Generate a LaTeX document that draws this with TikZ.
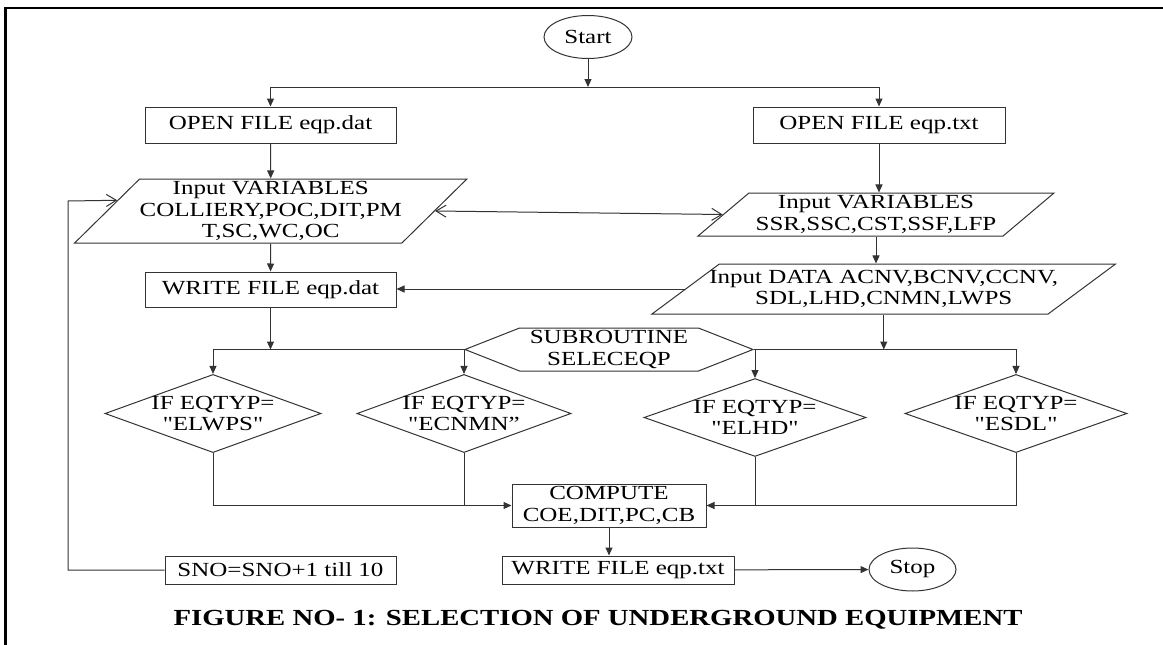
\documentclass[tikz,border=0pt]{standalone}
\usepackage{fontspec}
\newfontfamily\flowfont{Liberation Serif}[FakeStretch=1.25]
\usetikzlibrary{shapes.geometric,shapes.symbols,arrows.meta}

\tikzset{every picture/.style={line width=1pt}}
\tikzset{
    proc/.style={draw=black!80, rectangle, inner sep=0pt, align=center},
    inout/.style={draw=black!80, trapezium, trapezium stretches body, inner sep=0pt, align=center},
    decide/.style={draw=black!80, diamond, inner sep=-20pt, align=center},
    term/.style={draw=black!80, ellipse, inner sep=0pt},
    subr/.style={draw=black!80, signal, signal to=west and east, signal pointer angle=43, inner sep=0pt, align=center},
    arr/.style={draw=black!80, -{Triangle[length=8pt,width=7pt]}},
    barb/.style={draw=black!80, -{Straight Barb[length=10pt,width=12pt]}},
    barbs/.style={draw=black!80, {Straight Barb[length=10pt,width=12pt]}-{Straight Barb[length=10pt,width=12pt]}}
}

\begin{document}
\begin{tikzpicture}[x=1pt,y=1pt,yscale=-1,font=\flowfont\fontsize{20}{21.5}\selectfont]
        \useasboundingbox (0,0) rectangle (1163,645);
        \draw [line width=2.5pt] (5.5,645) -- (5.5,8) -- (1163,8);
        \node [term, minimum width=88pt, minimum height=43pt] (start) at (588,37) {Start};
        \coordinate (top) at (588,87);
        \node [proc, minimum width=251pt, minimum height=36pt] (open1) at (270.5,125) {OPEN FILE eqp.dat};
        \node [proc, minimum width=252pt, minimum height=36pt] (open2) at (879,125) {OPEN FILE eqp.txt};
        \node [inout, trapezium left angle=42.4, trapezium right angle=137.6, minimum width=367pt, minimum height=64pt] (in1) at (270.75,211) {Input VARIABLES\\COLLIERY,POC,DIT,PM\\T,SC,WC,OC};
        \node [inout, trapezium left angle=36.6, trapezium right angle=143.4, minimum width=356pt, minimum height=43pt] (in2) at (876,214.5) {Input VARIABLES\\SSR,SSC,CST,SSF,LFP};
        \node [inout, inner xsep=-10pt, trapezium left angle=29.3, trapezium right angle=150.7, minimum width=454pt, minimum height=50pt] (data) at (883.75,289) {Input DATA ACNV,BCNV,CCNV,\\SDL,LHD,CNMN,LWPS};
        \node [proc, minimum width=251pt, minimum height=35pt] (write1) at (270.5,289.5) {WRITE FILE eqp.dat};
        \node [subr, minimum width=288pt, minimum height=43pt] (selec) at (609,349.5) {SUBROUTINE\\SELECEQP};
        \node [decide, minimum width=216pt, minimum height=71pt] (d1) at (213,413.5) {IF EQTYP=\\"ELWPS"};
        \node [decide, minimum width=214pt, minimum height=71pt] (d2) at (464,413.5) {IF EQTYP=\\"ECNMN”};
        \node [decide, minimum width=222pt, minimum height=63pt] (d3) at (755,417.5) {IF EQTYP=\\"ELHD"};
        \node [decide, minimum width=222pt, minimum height=71pt] (d4) at (1016,413.5) {IF EQTYP=\\"ESDL"};
        \node [proc, minimum width=194pt, minimum height=43pt] (comp) at (609,505.5) {COMPUTE\\COE,DIT,PC,CB};
        \node [proc, minimum width=232pt, minimum height=28pt] (write2) at (618,570) {WRITE FILE eqp.txt};
        \node [term, minimum width=87pt, minimum height=43pt] (stop) at (912.5,569.5) {Stop};
        \node [proc, minimum width=231pt, minimum height=28pt] (sno) at (280.5,570) {SNO=SNO+1 till 10};
        \coordinate (back) at (68,201);
        \draw [arr] (start) -- (top);
        \draw [arr] (top) -| (open1);
        \draw [arr] (top) -| (open2);
        \draw [arr] (open1) -- (in1);
        \draw [arr] (open2.south) -- (open2.south |- in2.north);
        \draw [barbs] (in1.east) -- (in2.west);
        \draw [arr] (in2.south) -- (in2.south |- data.north);
        \draw [arr] (in1) -- (write1);
        \draw [arr] (data.west) -- (data.west -| write1.east);
        \draw [arr] (write1.south) -- (write1.south |- selec.west);
        \draw [arr] (data.south) -- (data.south |- selec.east);
        \draw [arr] (selec.west) -| (d1);
        \draw [arr] (selec.west) -| (d2);
        \draw [arr] (selec.east) -| (d3);
        \draw [arr] (selec.east) -| (d4);
        \draw [arr] (d1) |- (comp);
        \draw [draw=black!80] (d2) -- (d2 |- comp);
        \draw [arr] (d4) |- (comp);
        \draw [draw=black!80] (d3) -- (d3 |- comp);
        \draw [arr] (comp.south) -- (comp.south |- write2.north);
        \draw [arr] (write2) -- (stop);
        \draw [barb] (sno) -| (back) -- (in1.176);
        \node [font=\flowfont\bfseries\fontsize{23}{26}\selectfont, anchor=base] (caption) at (598,625) {FIGURE NO- 1: SELECTION OF UNDERGROUND EQUIPMENT};
\end{tikzpicture}
\end{document}
